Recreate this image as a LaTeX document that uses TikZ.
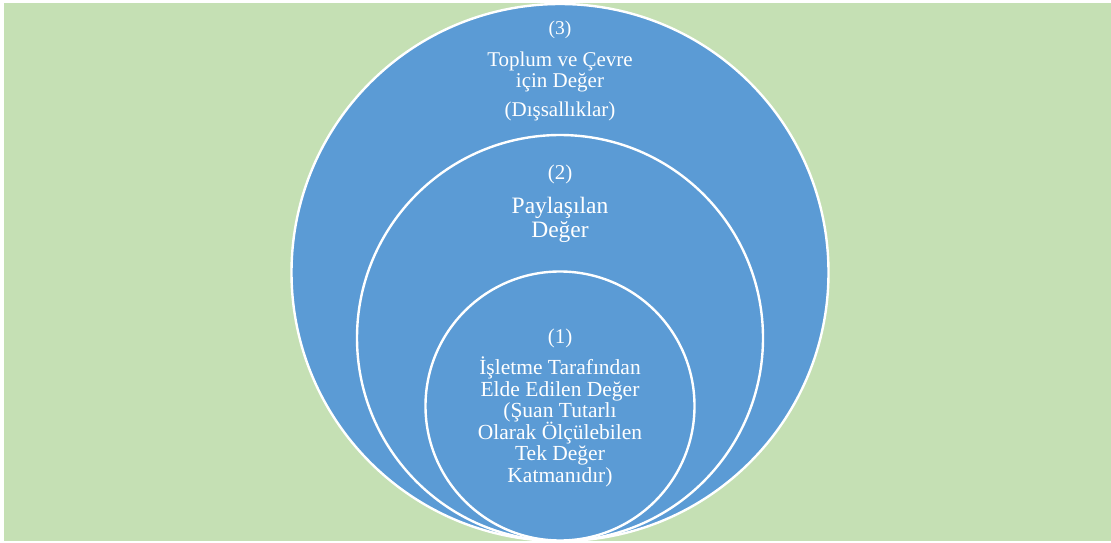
\documentclass[tikz,border=0pt]{standalone}
\usepackage{fontspec}
\setmainfont{Liberation Serif}
\definecolor{layerblue}{HTML}{5B9BD5}
\definecolor{fieldgreen}{HTML}{C5E0B4}
\begin{document}
\begin{tikzpicture}[x=1pt,y=-1pt,
  layer/.style={circle, fill=layerblue, draw=white, line width=2.4pt, inner sep=0pt},
  caption/.style={anchor=base, text=white, inner sep=0pt}]
  \useasboundingbox (0,0) rectangle (1111,543);
  % background field
  \fill[fieldgreen] (4,3) rectangle (1111,541);
  % nested value layers, all touching at the bottom
  \node[layer, minimum size=537pt] (outer) at (560,272.5) {};
  \node[layer, minimum size=406pt] (middle) at (560,338) {};
  \node[layer, minimum size=269pt] (inner) at (560,406) {};
  % layer 3
  \node[caption, font=\fontsize{19.5}{20}\selectfont] (n3) at (560,35) {(3)};
  \node[caption, font=\fontsize{21}{22}\selectfont] (t3a) at (560,66.5) {Toplum ve Çevre};
  \node[caption, font=\fontsize{21}{22}\selectfont] (t3b) at (560,88) {için Değer};
  \node[caption, font=\fontsize{21}{22}\selectfont] (t3c) at (560,116) {(Dışsallıklar)};
  % layer 2
  \node[caption, font=\fontsize{21}{22}\selectfont] (n2) at (560,179) {(2)};
  \node[caption, font=\fontsize{23.5}{24}\selectfont] (t2a) at (560,213) {Paylaşılan};
  \node[caption, font=\fontsize{23.5}{24}\selectfont] (t2b) at (560,237) {Değer};
  % layer 1
  \node[caption, font=\fontsize{21}{22}\selectfont] (n1) at (560,343) {(1)};
  \node[caption, font=\fontsize{21.5}{22}\selectfont] (t1a) at (560,374) {İşletme Tarafından};
  \node[caption, font=\fontsize{21.5}{22}\selectfont] (t1b) at (560,396) {Elde Edilen Değer};
  \node[caption, font=\fontsize{21.5}{22}\selectfont] (t1c) at (560,417) {(Şuan Tutarlı};
  \node[caption, font=\fontsize{21.5}{22}\selectfont] (t1d) at (560,439) {Olarak Ölçülebilen};
  \node[caption, font=\fontsize{21.5}{22}\selectfont] (t1e) at (560,460) {Tek Değer};
  \node[caption, font=\fontsize{21.5}{22}\selectfont] (t1f) at (560,482) {Katmanıdır)};
\end{tikzpicture}
\end{document}
